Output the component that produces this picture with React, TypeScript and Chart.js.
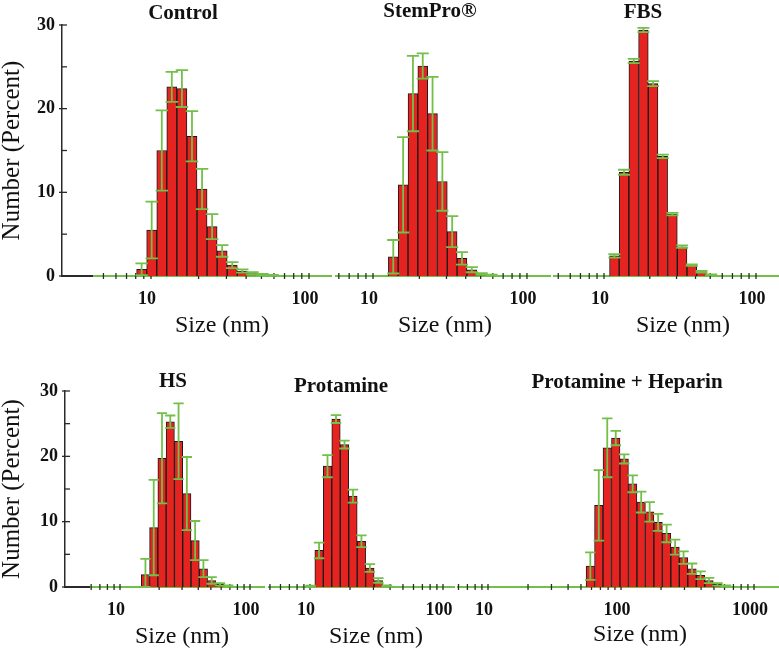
import React, { useEffect, useRef } from "react";
import { Chart, registerables } from "chart.js";

Chart.register(...registerables);

// ---- Data (size classes in nm, number %, error) ----
const controlSizes = [8.721, 10.1, 11.7, 13.54, 15.69, 18.17, 21.04, 24.36, 28.21, 32.67, 37.84, 43.82, 50.75, 58.77];
const controlValues = [0.8, 5.5, 15.0, 22.6, 22.4, 16.7, 10.4, 5.9, 3.0, 1.3, 0.6, 0.3, 0.15, 0.07];
const controlErrors = [0.7, 3.4, 4.8, 1.8, 2.2, 3.0, 2.4, 1.5, 0.7, 0.35, 0.2, 0.15, 0.1, 0.05];

const stemProSizes = [13.54, 15.69, 18.17, 21.04, 24.36, 28.21, 32.67, 37.84, 43.82, 50.75, 58.77];
const stemProValues = [2.3, 10.9, 21.8, 25.1, 19.4, 11.3, 5.3, 2.1, 0.75, 0.25, 0.1];
const stemProErrors = [2.0, 5.7, 4.5, 1.5, 4.4, 3.5, 1.85, 0.75, 0.3, 0.1, 0.05];

const fbsSizes = [11.7, 13.54, 15.69, 18.17, 21.04, 24.36, 28.21, 32.67, 37.84, 43.82, 50.75];
const fbsValues = [2.4, 12.4, 25.7, 29.4, 23.0, 14.3, 7.4, 3.5, 1.3, 0.5, 0.15];
const fbsErrors = [0.2, 0.3, 0.25, 0.25, 0.3, 0.2, 0.15, 0.15, 0.1, 0.1, 0.05];

const hsSizes = [15.69, 18.17, 21.04, 24.36, 28.21, 32.67, 37.84, 43.82, 50.75, 58.77, 68.06];
const hsValues = [1.9, 9.1, 19.7, 25.3, 22.3, 14.3, 7.1, 2.8, 1.0, 0.4, 0.15];
const hsErrors = [2.4, 7.3, 6.9, 0.95, 5.8, 5.6, 3.0, 1.3, 0.5, 0.2, 0.1];

const protamineSizes = [10.1, 11.7, 13.54, 15.69, 18.17, 21.04, 24.36, 28.21, 32.67, 37.84];
const protamineValues = [0.1, 5.6, 18.5, 25.7, 21.8, 13.9, 7.0, 2.9, 1.0, 0.15];
const protamineErrors = [0.1, 1.2, 1.7, 0.6, 0.6, 1.0, 0.9, 0.6, 0.35, 0.1];

const phSizes = [58.77, 68.06, 78.82, 91.28, 105.7, 122.4, 141.8, 164.2, 190.1, 220.2, 255.0, 295.3, 342.0, 396.1, 458.7, 531.2, 615.1];
const phValues = [3.2, 12.5, 21.3, 22.8, 19.6, 15.8, 13.0, 11.5, 9.9, 8.2, 6.1, 4.5, 2.8, 1.8, 1.0, 0.4, 0.15];
const phErrors = [2.1, 5.4, 4.5, 1.1, 0.7, 1.3, 1.6, 1.5, 1.3, 1.35, 1.15, 0.95, 0.8, 0.6, 0.4, 0.2, 0.1];

const DECADE_TICKS = [10, 100, 1000];
const Y_TICKS = [0, 5, 10, 15, 20, 25, 30];
const Y_LABELED = [0, 10, 20, 30];
const Y_TITLE = "Number (Percent)";
const X_TITLE = "Size (nm)";

// ---- Styles ----
const FONT = '"Liberation Serif", "Times New Roman", Times, serif';
const RED = "#e52421";
const EDGE = "#1a1a1a";
const GREEN = "#72c04a";
const AXIS = "#2a2a2a";
const TEXT = "#111111";
const W = 779;

const ROWS = [
  { top: 0, height: 340, plotTop: 25, plotBottom: 276 },
  { top: 340, height: 308, plotTop: 391, plotBottom: 587 },
];

type Panel = {
  key: string;
  title: string;
  sizes: number[];
  values: number[];
  errors: number[];
  row: number;
  areaLeft: number;
  areaRight: number;
  xMin: number;
  xMax: number;
  blackEnd?: number;
  tickMin: number;
  tickMax: number;
  showY: boolean;
  titleX: number;
  titleY: number;
  labelX: number;
  labelY: number;
};

const PANELS: Panel[] = [
  { key: "control", title: "Control", sizes: controlSizes, values: controlValues, errors: controlErrors, row: 0,
    areaLeft: 62, areaRight: 332, xMin: 2.733, xMax: 139.8, blackEnd: 4.3, tickMin: 5, tickMax: 100, showY: true,
    titleX: 183, titleY: 19, labelX: 222, labelY: 332 },
  { key: "stempro", title: "StemPro®", sizes: stemProSizes, values: stemProValues, errors: stemProErrors, row: 0,
    areaLeft: 335, areaRight: 551, xMin: 5.665, xMax: 143.2, tickMin: 6, tickMax: 100, showY: false,
    titleX: 430, titleY: 17, labelX: 445, labelY: 332 },
  { key: "fbs", title: "FBS", sizes: fbsSizes, values: fbsValues, errors: fbsErrors, row: 0,
    areaLeft: 553, areaRight: 779, xMin: 4.618, xMax: 141.7, tickMin: 5, tickMax: 100, showY: false,
    titleX: 643, titleY: 18, labelX: 683, labelY: 332 },
  { key: "hs", title: "HS", sizes: hsSizes, values: hsValues, errors: hsErrors, row: 1,
    areaLeft: 65, areaRight: 265, xMin: 3.775, xMax: 130.4, blackEnd: 5.878, tickMin: 6, tickMax: 100, showY: true,
    titleX: 173, titleY: 387, labelX: 182, labelY: 643 },
  { key: "protamine", title: "Protamine", sizes: protamineSizes, values: protamineValues, errors: protamineErrors, row: 1,
    areaLeft: 268, areaRight: 455, xMin: 4.834, xMax: 123.1, tickMin: 5, tickMax: 100, showY: false,
    titleX: 341, titleY: 392, labelX: 376, labelY: 643 },
  { key: "ph", title: "Protamine + Heparin", sizes: phSizes, values: phValues, errors: phErrors, row: 1,
    areaLeft: 457, areaRight: 779, xMin: 5.847, xMax: 1541, tickMin: 6, tickMax: 1000, showY: false,
    titleX: 627, titleY: 388, labelX: 640, labelY: 641 },
];

function minorTicks(lo: number, hi: number): number[] {
  const out: number[] = [];
  for (let e = Math.floor(Math.log10(lo)); e <= Math.ceil(Math.log10(hi)); e++) {
    for (let m = 1; m <= 9; m++) {
      const v = m * Math.pow(10, e);
      if (v >= lo * 0.999 && v <= hi * 1.001) out.push(v);
    }
  }
  return out;
}

function makeDecor(p: Panel) {
  const row = ROWS[p.row];
  return {
    id: "decor-" + p.key,
    beforeDatasetsDraw(chart: any) {
      const { ctx, chartArea } = chart;
      const x = chart.scales.x;
      const y = chart.scales.y;
      const y0 = y.getPixelForValue(0);
      ctx.save();
      let greenStart = chartArea.left;
      if (p.blackEnd) {
        greenStart = x.getPixelForValue(p.blackEnd);
        ctx.strokeStyle = AXIS;
        ctx.lineWidth = 2;
        ctx.beginPath();
        ctx.moveTo(chartArea.left, y0);
        ctx.lineTo(greenStart, y0);
        ctx.stroke();
      }
      ctx.strokeStyle = GREEN;
      ctx.lineWidth = 2;
      ctx.beginPath();
      ctx.moveTo(greenStart, y0);
      ctx.lineTo(chartArea.right, y0);
      ctx.stroke();
      // x minor ticks
      ctx.strokeStyle = AXIS;
      ctx.lineWidth = 1.3;
      for (const v of minorTicks(p.tickMin, p.tickMax)) {
        const px = x.getPixelForValue(v);
        ctx.beginPath();
        ctx.moveTo(px, y0 - 3);
        ctx.lineTo(px, y0 + 3);
        ctx.stroke();
      }
      // y ticks
      if (p.showY) {
        ctx.lineWidth = 1.3;
        for (const v of Y_TICKS) {
          const py = y.getPixelForValue(v);
          const major = Y_LABELED.includes(v);
          ctx.beginPath();
          ctx.moveTo(chartArea.left - (major ? 3 : 0), py);
          ctx.lineTo(chartArea.left + 5, py);
          ctx.stroke();
        }
      }
      ctx.restore();
    },
    afterDatasetsDraw(chart: any) {
      const { ctx } = chart;
      const y = chart.scales.y;
      const meta = chart.getDatasetMeta(0);
      ctx.save();
      ctx.strokeStyle = GREEN;
      ctx.lineWidth = 1.8;
      meta.data.forEach((el: any, i: number) => {
        const v = p.values[i];
        const e = p.errors[i];
        const yHi = y.getPixelForValue(v + e);
        const yLo = y.getPixelForValue(Math.max(0, v - e));
        const half = el.width * 0.62;
        ctx.beginPath();
        ctx.moveTo(el.x, yHi);
        ctx.lineTo(el.x, yLo);
        ctx.moveTo(el.x - half, yHi);
        ctx.lineTo(el.x + half, yHi);
        ctx.moveTo(el.x - half, yLo);
        ctx.lineTo(el.x + half, yLo);
        ctx.stroke();
      });
      ctx.restore();
    },
    afterDraw(chart: any) {
      const { ctx } = chart;
      ctx.save();
      ctx.fillStyle = TEXT;
      ctx.textAlign = "center";
      ctx.textBaseline = "alphabetic";
      ctx.font = `bold 21px ${FONT}`;
      ctx.fillText(p.title, p.titleX, p.titleY - row.top);
      ctx.font = `24px ${FONT}`;
      ctx.fillText(X_TITLE, p.labelX, p.labelY - row.top);
      ctx.restore();
    },
  };
}

function buildConfig(p: Panel): any {
  const row = ROWS[p.row];
  const xHeight = row.top + row.height - row.plotBottom;
  const yScale: any = {
    type: "linear",
    min: 0,
    max: 30,
    display: p.showY,
    grid: { display: false, drawTicks: false },
    border: { display: true, color: AXIS, width: 1.5 },
    ticks: {
      stepSize: 5,
      padding: 7,
      color: TEXT,
      font: { family: FONT, size: 18, weight: "bold" },
      callback: (v: any) => (Y_LABELED.includes(Number(v)) ? String(v) : ""),
    },
    title: {
      display: p.showY,
      text: Y_TITLE,
      color: TEXT,
      padding: 0,
      font: { family: FONT, size: 25, lineHeight: 1 },
    },
  };
  if (p.showY) {
    yScale.afterFit = (axis: any) => {
      axis.width = p.areaLeft;
    };
  }
  return {
    type: "bar",
    data: {
      datasets: [
        {
          data: p.sizes.map((s, i) => ({ x: s, y: p.values[i] })),
          backgroundColor: RED,
          borderColor: EDGE,
          borderWidth: 1,
          barPercentage: 1,
          categoryPercentage: 1,
        },
      ],
    },
    options: {
      responsive: false,
      animation: false,
      events: [],
      layout: {
        padding: {
          left: p.showY ? 0 : p.areaLeft,
          right: W - p.areaRight,
          top: row.plotTop - row.top,
          bottom: 0,
        },
      },
      plugins: {
        legend: { display: false },
        tooltip: { enabled: false },
        title: { display: false },
      },
      scales: {
        x: {
          type: "logarithmic",
          position: "bottom",
          min: p.xMin,
          max: p.xMax,
          offset: false,
          grid: { display: false, offset: false, drawTicks: true, tickLength: 13 },
          border: { display: false },
          afterBuildTicks: (axis: any) => {
            axis.ticks = DECADE_TICKS.filter((v) => v >= p.xMin && v <= p.xMax).map((v) => ({ value: v }));
          },
          afterFit: (axis: any) => {
            axis.height = xHeight;
          },
          ticks: {
            autoSkip: false,
            maxRotation: 0,
            minRotation: 0,
            padding: 0,
            labelOffset: -4,
            color: TEXT,
            font: { family: FONT, size: 18, weight: "bold" },
            callback: (v: any) => String(v),
          },
        },
        y: yScale,
      },
    },
    plugins: [makeDecor(p)],
  };
}

export default function App() {
  const refs = useRef<(HTMLCanvasElement | null)[]>([]);
  useEffect(() => {
    const charts = PANELS.map((p, i) => new Chart(refs.current[i] as HTMLCanvasElement, buildConfig(p)));
    return () => charts.forEach((c) => c.destroy());
  }, []);
  return (
    <div style={{ position: "fixed", left: 0, top: 0, width: W, height: 648, background: "#ffffff" }}>
      {PANELS.map((p, i) => (
        <canvas
          key={p.key}
          ref={(el) => {
            refs.current[i] = el;
          }}
          width={W}
          height={ROWS[p.row].height}
          style={{ position: "absolute", left: 0, top: ROWS[p.row].top, width: W, height: ROWS[p.row].height }}
        />
      ))}
    </div>
  );
}
